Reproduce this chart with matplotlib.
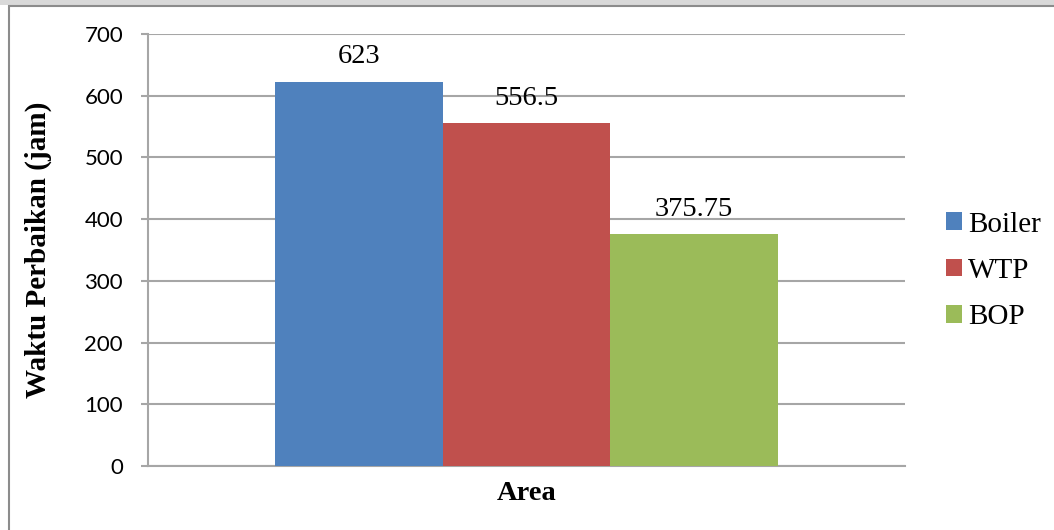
import matplotlib.pyplot as plt
from matplotlib.patches import Rectangle, Patch

# Waktu perbaikan per area (jam)
areas = ["Boiler", "WTP", "BOP"]
hours = [623, 556.5, 375.75]
value_labels = ["623", "556.5", "375.75"]
colors = ["#4F81BD", "#C0504D", "#9BBB59"]
yticks = [0, 100, 200, 300, 400, 500, 600, 700]

W, H = 1054, 530
fig = plt.figure(figsize=(W / 100, H / 100), dpi=100)
fig.patch.set_facecolor("white")

# chart frame and the grey strip above it
fig.patches.append(Rectangle((0, 1 - 5 / H), 1, 5 / H, transform=fig.transFigure,
                             facecolor="#d9d9d9", edgecolor="none", zorder=-2))
fig.patches.append(Rectangle((8.5 / W, -0.1), 1.2, 1 - 5.5 / H + 0.1,
                             transform=fig.transFigure, facecolor="white",
                             edgecolor="#8c8c8c", linewidth=1.5, zorder=-1))

ax = fig.add_axes([148 / W, 1 - 466 / H, 757 / W, 432 / H])
ax.set_facecolor("none")
ax.set_zorder(2)

bar_w = 0.2215
offsets = [-bar_w, 0, bar_w]
for off, v, c, lab, txt in zip(offsets, hours, colors, areas, value_labels):
    ax.bar(off, v, width=bar_w, color=c, label=lab, zorder=3)
    ax.annotate(txt, (off, v), xytext=(0, 13), textcoords="offset points",
                ha="center", va="baseline", fontsize=20.5,
                family="Liberation Serif", zorder=4)

ax.set_xlim(-0.5, 0.5)
ax.set_ylim(0, 700)
ax.set_yticks(yticks)
ax.set_yticklabels([str(t) for t in yticks], family="Lato", fontsize=16)
ax.set_xticks([])
ax.yaxis.grid(True, color="#a6a6a6", linewidth=1.5, zorder=0)
ax.set_axisbelow(True)
ax.tick_params(axis="y", length=5, width=1.5, color="#a6a6a6", pad=13)

for s in ["top", "right"]:
    ax.spines[s].set_visible(False)
for s in ["left", "bottom"]:
    ax.spines[s].set_color("#a6a6a6")
    ax.spines[s].set_linewidth(1.5)

ax.set_xlabel("Area", family="Liberation Serif", fontweight="bold",
              fontsize=20.5, labelpad=11)
ax.set_ylabel("Waktu Perbaikan (jam)", family="Liberation Serif",
              fontweight="bold", fontsize=21, labelpad=23)

handles = [Patch(facecolor=c, edgecolor="none") for c in colors]
fig.legend(handles, areas, loc="center left", bbox_to_anchor=(946 / W, 1 - 271 / H),
           frameon=False, prop={"family": "Liberation Serif", "size": 21},
           handlelength=0.55, handleheight=0.55, handletextpad=0.2,
           labelspacing=0.7, borderaxespad=0, borderpad=0)

fig.savefig("out.png", dpi=100)
